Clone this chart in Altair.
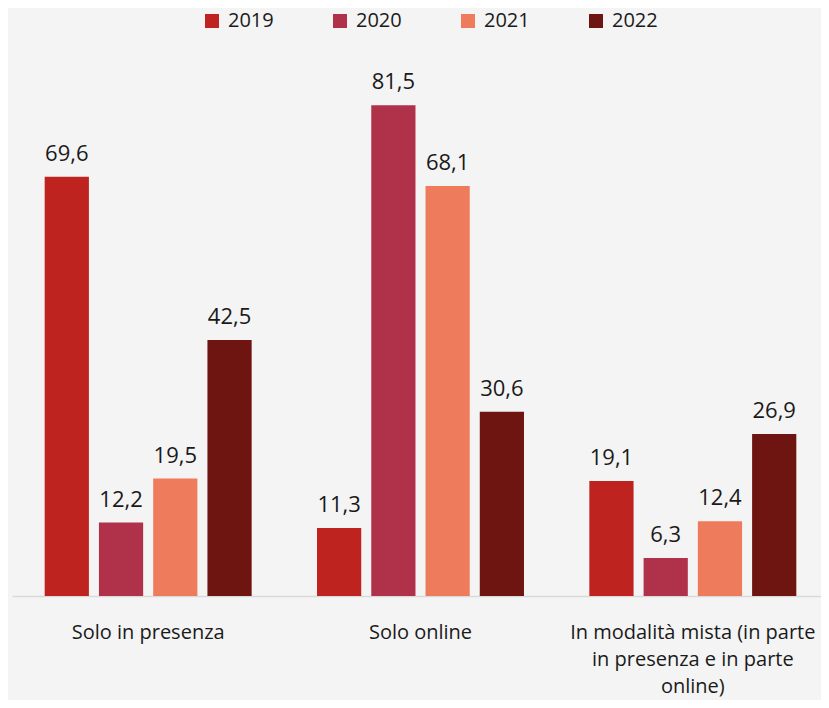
import altair as alt
import pandas as pd

categories = ["Solo in presenza", "Solo online",
              "In modalità mista (in parte in presenza e in parte online)"]
years = ["2019", "2020", "2021", "2022"]
values = {
    "2019": [69.6, 11.3, 19.1],
    "2020": [12.2, 81.5, 6.3],
    "2021": [19.5, 68.1, 12.4],
    "2022": [42.5, 30.6, 26.9],
}
colors = ["#BE2320", "#B0314A", "#EF7B5D", "#6E1512"]

rows = []
for y in years:
    for c, v in zip(categories, values[y]):
        rows.append({"cat": c, "year": y, "value": v,
                     "label": f"{v:.1f}".replace(".", ",")})
df = pd.DataFrame(rows)

label_expr = ("datum.label == 'In modalità mista (in parte in presenza e in parte online)' ? "
              "['In modalità mista (in parte', 'in presenza e in parte', 'online)'] : datum.label")

x = alt.X("cat:N", sort=categories, title=None,
          scale=alt.Scale(paddingInner=0.24, paddingOuter=0.12, range=[0, 817]),
          axis=alt.Axis(labelAngle=0, labelExpr=label_expr, labelFontSize=20,
                        labelFont="Open Sans", labelColor="#1a1a1a",
                        labelPadding=26, labelLineHeight=27, labelLimit=400,
                        ticks=False, domainColor="#d9d9d9", domainWidth=1.5,
                        labelBaseline="top"))
xo = alt.XOffset("year:N", sort=years,
                 scale=alt.Scale(paddingInner=0.185, paddingOuter=0))
y = alt.Y("value:Q", scale=alt.Scale(domain=[0, 90]), axis=None)

bars = alt.Chart(df).mark_bar().encode(
    x=x, xOffset=xo, y=y,
    color=alt.Color("year:N", sort=years,
                    scale=alt.Scale(domain=years, range=colors),
                    legend=alt.Legend(title=None, orient="none", direction="horizontal",
                                      legendX=190, legendY=-43, symbolType="square",
                                      symbolSize=196, symbolStrokeWidth=0,
                                      labelFontSize=20, labelFont="Open Sans",
                                      labelColor="#1a1a1a", columnPadding=56,
                                      labelOffset=6, labelLimit=300))
)

text = alt.Chart(df).mark_text(baseline="alphabetic", dy=-16, fontSize=22,
                               font="Open Sans", color="#1a1a1a").encode(
    x=x, xOffset=xo, y=y, text="label:N"
)

chart = (bars + text).properties(
    width=809, height=542,
    autosize=alt.AutoSizeParams(type="none"),
    padding={"left": 4, "top": 46, "right": 0, "bottom": 104},
    background="#f4f4f4",
).configure_view(stroke=None)

chart.save("out.html", embed_options={"renderer": "svg", "actions": False})
